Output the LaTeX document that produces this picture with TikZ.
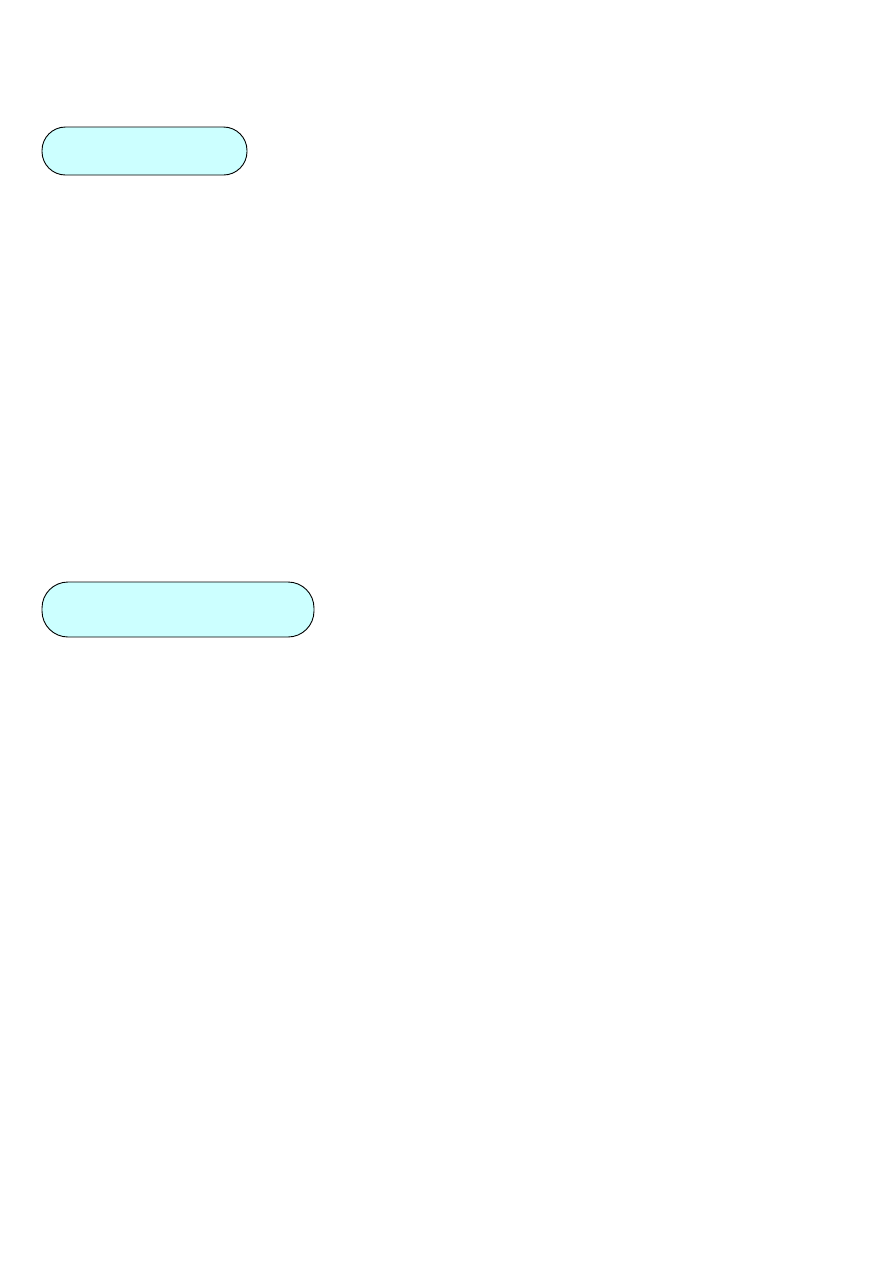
\documentclass[tikz,border=0pt]{standalone}
\usetikzlibrary{positioning}
\definecolor{paleCyan}{HTML}{CCFFFF}
\tikzset{
  pill/.style={draw=black, fill=paleCyan, line width=0.9pt,
    rounded corners=#1, inner sep=0pt},
  pill/.default=23pt
}
\begin{document}
\begin{tikzpicture}[x=1pt,y=-1pt]
  \useasboundingbox (0,0) rectangle (893,1262);
  \node[pill=23.5pt, minimum width=205pt, minimum height=48pt] (top) at (144.5,151) {};
  \node[pill=26pt, minimum width=272pt, minimum height=55pt] (bottom) at (178,609.5) {};
\end{tikzpicture}
\end{document}
